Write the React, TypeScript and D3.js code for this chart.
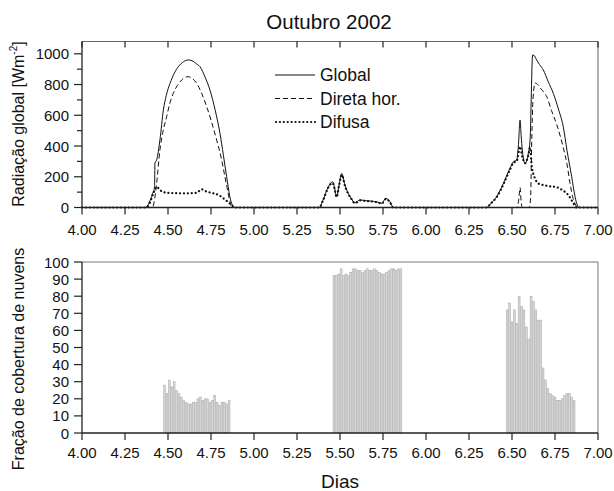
import React from "react";
import * as d3 from "d3";

const xTicks = [4.0, 4.25, 4.5, 4.75, 5.0, 5.25, 5.5, 5.75, 6.0, 6.25, 6.5, 6.75, 7.0];
const topYTicks = [0, 200, 400, 600, 800, 1000];
const topYMinor = [100, 300, 500, 700, 900];
const bottomYTicks = [0, 10, 20, 30, 40, 50, 60, 70, 80, 90, 100];

const globalSeries: [number, number][] = [
  [4.0, 0], [4.37, 0], [4.39, 30], [4.41, 90], [4.422, 135], [4.424, 288], [4.434, 310], [4.453, 439],
  [4.473, 634], [4.49, 730], [4.512, 808], [4.535, 870], [4.56, 916], [4.59, 948], [4.618, 960],
  [4.645, 952], [4.665, 935], [4.686, 916], [4.715, 850], [4.744, 764], [4.775, 630], [4.802, 483],
  [4.822, 340], [4.841, 200], [4.858, 80], [4.87, 27], [4.885, 0],
  [5.38, 0], [5.40, 45], [5.432, 135], [5.457, 168], [5.468, 130], [5.48, 70], [5.495, 150], [5.51, 222],
  [5.529, 146], [5.548, 92], [5.565, 60], [5.587, 30], [5.616, 49], [5.655, 44], [5.694, 40], [5.72, 35],
  [5.742, 27], [5.767, 60], [5.79, 38], [5.81, 0],
  [6.35, 0], [6.38, 30], [6.411, 70], [6.43, 110], [6.45, 157], [6.47, 210], [6.488, 255], [6.508, 298],
  [6.527, 309], [6.537, 400], [6.547, 569], [6.553, 470], [6.56, 374], [6.576, 288], [6.595, 353],
  [6.605, 439], [6.62, 992], [6.628, 990], [6.643, 960], [6.66, 930], [6.682, 895], [6.71, 820],
  [6.74, 743], [6.77, 640], [6.798, 526], [6.82, 370], [6.847, 200], [6.865, 80], [6.876, 27], [6.89, 0],
  [7.0, 0],
];

const diretaSeries: [number, number][] = [
  [4.0, 0], [4.41, 0], [4.42, 40], [4.434, 157], [4.453, 374], [4.47, 490], [4.492, 591], [4.51, 675],
  [4.531, 743], [4.555, 795], [4.58, 830], [4.6, 848], [4.618, 851], [4.64, 840], [4.667, 808],
  [4.695, 745], [4.725, 656], [4.755, 550], [4.783, 439], [4.81, 320], [4.831, 200], [4.847, 110],
  [4.86, 38], [4.875, 0],
  [6.53, 0], [6.54, 60], [6.547, 130], [6.553, 40], [6.56, 0], [6.6, 0], [6.608, 60], [6.615, 450],
  [6.622, 700], [6.634, 810], [6.65, 800], [6.67, 770], [6.702, 721], [6.73, 630], [6.76, 540],
  [6.798, 390], [6.82, 280], [6.837, 160], [6.855, 60], [6.866, 27], [6.88, 0], [7.0, 0],
];

const difusaSeries: [number, number][] = [
  [4.0, 0], [4.37, 0], [4.39, 20], [4.415, 92], [4.434, 135], [4.453, 114], [4.492, 96], [4.55, 93],
  [4.608, 92], [4.667, 96], [4.695, 118], [4.725, 103], [4.764, 92], [4.8, 78], [4.822, 60], [4.85, 35],
  [4.87, 16], [4.89, 0],
  [5.38, 0], [5.40, 42], [5.432, 130], [5.457, 160], [5.468, 125], [5.48, 68], [5.495, 145], [5.51, 212],
  [5.529, 140], [5.548, 88], [5.565, 58], [5.587, 28], [5.616, 46], [5.655, 42], [5.694, 38], [5.72, 33],
  [5.742, 25], [5.767, 56], [5.79, 35], [5.81, 0],
  [6.35, 0], [6.38, 30], [6.411, 68], [6.45, 150], [6.488, 245], [6.508, 290], [6.527, 300], [6.547, 396],
  [6.56, 330], [6.576, 288], [6.595, 340], [6.605, 390], [6.615, 265], [6.63, 200], [6.655, 155],
  [6.682, 146], [6.72, 138], [6.76, 132], [6.79, 115], [6.818, 92], [6.84, 60], [6.857, 27], [6.875, 0],
  [7.0, 0],
];

const cloudStep = 1 / 72;
const cloudStart = [4.48, 5.465, 6.472];
const cloudDay1 = [28, 23, 31, 27, 30, 25, 23, 21, 19, 18, 17, 17, 18, 18, 20, 21, 19, 20, 20, 18, 19, 22, 18, 16, 18, 18, 17, 19];
const cloudDay2 = [92, 92, 93, 96, 92, 93, 92, 94, 96, 96, 95, 95, 94, 95, 96, 95, 95, 96, 95, 94, 93, 93, 94, 95, 96, 96, 95, 96, 96];
const cloudDay3 = [72, 76, 65, 72, 64, 80, 74, 72, 62, 55, 80, 77, 72, 66, 66, 38, 31, 26, 23, 22, 21, 19, 19, 20, 22, 23, 23, 21, 19];

const W = 614;
const H = 491;
const L = 82;
const R = 598;
const T1 = 41.5;
const B1 = 207.5;
const T2 = 262;
const B2 = 433;
const FONT = "'Liberation Sans', Arial, sans-serif";

export default function App() {
  const x = d3.scaleLinear().domain([4, 7]).range([L, R]);
  const y1 = d3.scaleLinear().domain([0, 1080]).range([B1, T1]);
  const y2 = d3.scaleLinear().domain([0, 100]).range([B2, T2]);

  const line = d3
    .line<[number, number]>()
    .x((d) => x(d[0]))
    .y((d) => y1(d[1]))
    .curve(d3.curveMonotoneX);

  const clouds = [cloudDay1, cloudDay2, cloudDay3].flatMap((vals, k) =>
    vals.map((v, i) => ({ t: cloudStart[k] + i * cloudStep, v }))
  );
  const bw = x(4 + cloudStep) - x(4);

  const tickLabel = (v: number) => v.toFixed(2);

  return (
    <svg
      width={W}
      height={H}
      style={{ position: "absolute", left: 0, top: 0, background: "#fff" }}
      fontFamily={FONT}
    >
      <rect x={0} y={0} width={W} height={H} fill="#fff" />
      {/* Title */}
      <text x={329} y={29} fontSize={20.5} textAnchor="middle" fill="#111">
        Outubro 2002
      </text>

      {/* ---------- Top panel ---------- */}
      <line x1={L} x2={R} y1={T1} y2={T1} stroke="#666" strokeWidth={1} />
      <line x1={R} x2={R} y1={T1} y2={B1} stroke="#666" strokeWidth={1} />
      {xTicks.map((t) => (
        <line key={"tt" + t} x1={x(t)} x2={x(t)} y1={T1} y2={T1 + 6} stroke="#222" strokeWidth={1.2} />
      ))}

      <path d={line(globalSeries) || ""} fill="none" stroke="#111" strokeWidth={1} />
      <path d={line(diretaSeries) || ""} fill="none" stroke="#111" strokeWidth={1} strokeDasharray="5,3" />
      <path
        d={line(difusaSeries) || ""}
        fill="none"
        stroke="#111"
        strokeWidth={2.2}
        strokeDasharray="0.1,3.8"
        strokeLinecap="round"
      />

      <line x1={L} x2={R} y1={B1} y2={B1} stroke="#222" strokeWidth={1.3} />
      <line x1={L} x2={L} y1={T1} y2={B1} stroke="#222" strokeWidth={1.3} />
      {xTicks.map((t) => (
        <g key={"bt" + t}>
          <line x1={x(t)} x2={x(t)} y1={B1} y2={B1 + 7} stroke="#222" strokeWidth={1.2} />
          <text x={x(t)} y={235} fontSize={15} textAnchor="middle" fill="#111">
            {tickLabel(t)}
          </text>
        </g>
      ))}
      {topYTicks.map((v) => (
        <g key={"ly" + v}>
          <line x1={L - 8} x2={L} y1={y1(v)} y2={y1(v)} stroke="#222" strokeWidth={1.2} />
          <text x={L - 13} y={y1(v) + 5.5} fontSize={15} textAnchor="end" fill="#111">
            {v}
          </text>
        </g>
      ))}
      {topYMinor.map((v) => (
        <line key={"lm" + v} x1={L - 5} x2={L} y1={y1(v)} y2={y1(v)} stroke="#222" strokeWidth={1.2} />
      ))}
      <text
        transform={`translate(24,124) rotate(-90)`}
        fontSize={16}
        textAnchor="middle"
        fill="#111"
      >
        Radiação global [Wm
        <tspan fontSize={10} dy={-7}>
          -2
        </tspan>
        <tspan dy={7}>]</tspan>
      </text>

      {/* Legend */}
      <line x1={275} x2={315} y1={75} y2={75} stroke="#111" strokeWidth={1} />
      <text x={320} y={81} fontSize={17.5} fill="#111">
        Global
      </text>
      <line x1={275} x2={315} y1={98.5} y2={98.5} stroke="#111" strokeWidth={1} strokeDasharray="5,3" />
      <text x={320} y={104.5} fontSize={17.5} fill="#111">
        Direta hor.
      </text>
      <line
        x1={276}
        x2={315}
        y1={122}
        y2={122}
        stroke="#111"
        strokeWidth={2.2}
        strokeDasharray="0.1,3.8"
        strokeLinecap="round"
      />
      <text x={320} y={128} fontSize={17.5} fill="#111">
        Difusa
      </text>

      {/* ---------- Bottom panel ---------- */}
      <line x1={L} x2={R} y1={T2} y2={T2} stroke="#777" strokeWidth={1} />
      <line x1={R} x2={R} y1={T2} y2={B2} stroke="#777" strokeWidth={1} />
      {clouds.map((c, i) => (
        <rect
          key={"c" + i}
          x={x(c.t) - bw / 2 + 0.25}
          y={y2(c.v)}
          width={bw - 0.5}
          height={B2 - y2(c.v)}
          fill="#d6d6d6"
          stroke="#a9a9a9"
          strokeWidth={0.5}
        />
      ))}
      <line x1={L} x2={R} y1={B2} y2={B2} stroke="#222" strokeWidth={1.3} />
      <line x1={L} x2={L} y1={T2} y2={B2} stroke="#222" strokeWidth={1.3} />
      {xTicks.map((t) => (
        <g key={"bt2" + t}>
          <line x1={x(t)} x2={x(t)} y1={B2} y2={B2 + 7} stroke="#222" strokeWidth={1.2} />
          <text x={x(t)} y={458} fontSize={15} textAnchor="middle" fill="#111">
            {tickLabel(t)}
          </text>
        </g>
      ))}
      {bottomYTicks.map((v) => (
        <g key={"by" + v}>
          <line x1={L - 8} x2={L} y1={y2(v)} y2={y2(v)} stroke="#222" strokeWidth={1.2} />
          <text x={L - 13} y={y2(v) + 5.5} fontSize={15} textAnchor="end" fill="#111">
            {v}
          </text>
        </g>
      ))}
      <text
        transform={`translate(24,359) rotate(-90)`}
        fontSize={16}
        textAnchor="middle"
        fill="#111"
      >
        Fração de cobertura de nuvens
      </text>
      <text x={340} y={488} fontSize={19} textAnchor="middle" fill="#111">
        Dias
      </text>
    </svg>
  );
}
